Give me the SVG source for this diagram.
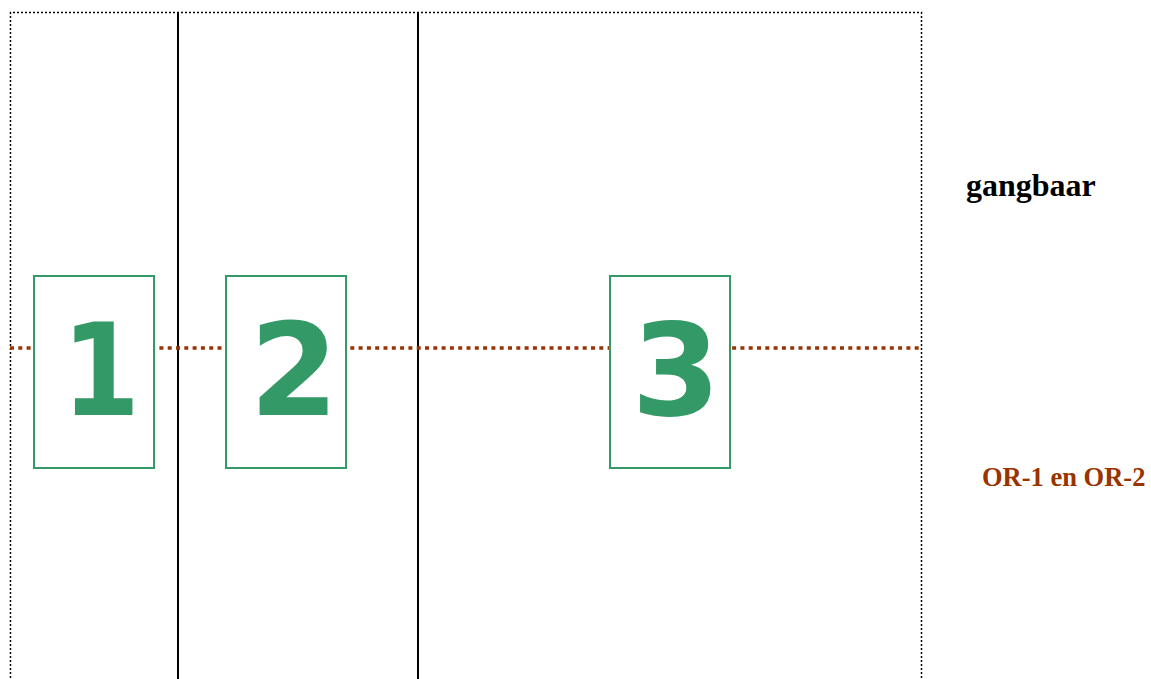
<svg xmlns="http://www.w3.org/2000/svg" width="1151" height="679" viewBox="0 0 1151 679">
<style>
.frame{fill:none;stroke:#000;stroke-width:1.5;stroke-dasharray:2 2}
.div{stroke:#000;stroke-width:2}
.axis{stroke:#993300;stroke-width:3.5;stroke-dasharray:4 4.3;fill:none}
.box{fill:#fff;stroke:#339966;stroke-width:2}
.num{font-family:"DejaVu Sans",Verdana,sans-serif;font-weight:bold;font-size:128px;fill:#339966;text-anchor:middle}
.lbl{font-family:"Liberation Serif","Times New Roman",serif;font-weight:bold}
</style>
<rect width="1151" height="679" fill="#fff"/>
<g id="frame">
<path class="frame" d="M10.5 690 V12.5 H921.5 V690"/>
</g>
<g id="connectors">
<line class="div" x1="178" y1="12" x2="178" y2="679"/>
<line class="div" x1="418" y1="12" x2="418" y2="679"/>
<line class="axis" x1="10" y1="348" x2="920" y2="348"/>
</g>
<g id="node1">
<rect class="box" x="34" y="276" width="120" height="192"/>
<text class="num" x="101" y="415" transform="translate(101 0) scale(0.88 1) translate(-101 0)">1</text>
</g>
<g id="node2">
<rect class="box" x="226" y="276" width="120" height="192"/>
<text class="num" x="294" y="415">2</text>
</g>
<g id="node3">
<rect class="box" x="610" y="276" width="120" height="192"/>
<text class="num" x="676" y="415">3</text>
</g>
<g id="label-gangbaar">
<text class="lbl" x="966" y="196" font-size="32" fill="#000">gangbaar</text>
</g>
<g id="label-or">
<text class="lbl" x="982" y="486" font-size="26.5" fill="#993300">OR-1 en OR-2</text>
</g>
</svg>
